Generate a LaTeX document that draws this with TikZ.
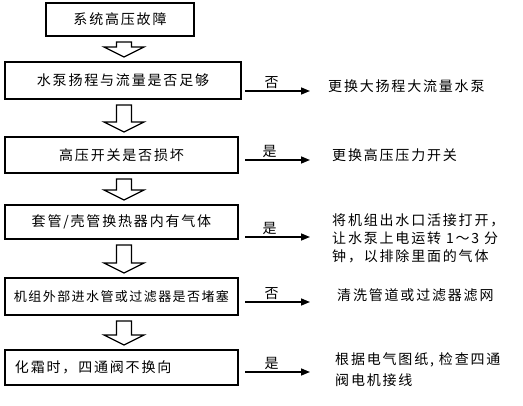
\documentclass[tikz,border=0pt]{standalone}
\usepackage{fontspec}
\newfontfamily\cjk[LetterSpace=13]{Noto Sans CJK SC}
\newfontfamily\cjksmall[LetterSpace=11]{Noto Sans CJK SC}
\usetikzlibrary{arrows.meta,calc}
\newcommand\mydownarrow[2]{%
  \draw[blockarr] let \p1=(#1.south), \p2=(#2.north) in
    (116.5pt,\y1-5pt) -- (116.5pt,\y2+14pt) -- (104pt,\y2+14pt) --
    (124pt,\y2+4pt) -- (144pt,\y2+14pt) -- (131.5pt,\y2+14pt) --
    (131.5pt,\y1-5pt) -- cycle;}
\begin{document}
\begin{tikzpicture}[x=1pt,y=-1pt,
  box/.style={draw,line width=2pt,inner sep=0pt,font=\cjk\fontsize{14}{18}\selectfont},
  blockarr/.style={draw,line width=1.2pt,fill=white},
  harr/.style={line width=1.5pt,-{Triangle[length=9pt,width=7pt]}},
  lab/.style={above,inner sep=2pt,font=\cjk\fontsize{14}{16}\selectfont},
  rtext/.style={anchor=west,inner sep=0pt,align=left,font=\cjk\fontsize{14}{18}\selectfont}]
\useasboundingbox (0,0) rectangle (523,405);
\fill[white] (0,0) rectangle (523,405);
% boxes
\node[box,minimum width=148pt,minimum height=33pt] (b1) at (120,19.5) {系统高压故障};
\node[box,minimum width=236pt,minimum height=37pt] (b2) at (123,80.5) {水泵扬程与流量是否足够};
\node[box,minimum width=233pt,minimum height=36pt] (b3) at (121.5,155) {高压开关是否损坏};
\node[box,minimum width=233pt,minimum height=34pt] (b4) at (121.5,222) {套管/壳管换热器内有气体};
\node[box,minimum width=233pt,minimum height=37pt,font=\cjksmall\fontsize{13}{16}\selectfont] (b5) at (121.5,296.5) {机组外部进水管或过滤器是否堵塞};
\node[box,minimum height=35pt,text width=213pt,inner xsep=10pt,align=left] (b6) at (121.5,367.5) {化霜时，四通阀不换向};
% block arrows
\mydownarrow{b1}{b2}
\mydownarrow{b2}{b3}
\mydownarrow{b3}{b4}
\mydownarrow{b4}{b5}
\mydownarrow{b5}{b6}
% horizontal arrows
\coordinate (s2) at (245,91);  \coordinate (e2) at (310,91);
\coordinate (s3) at (245,160); \coordinate (e3) at (310,160);
\coordinate (s4) at (245,237); \coordinate (e4) at (310,237);
\coordinate (s5) at (245,302); \coordinate (e5) at (310,302);
\coordinate (s6) at (245,372); \coordinate (e6) at (310,372);
\draw[harr] (s2) -- node[lab,pos=.41] {否} (e2);
\draw[harr] (s3) -- node[lab,pos=.38] {是} (e3);
\draw[harr] (s4) -- node[lab,pos=.38] {是} (e4);
\draw[harr] (s5) -- node[lab,pos=.41] {否} (e5);
\draw[harr] (s6) -- node[lab,pos=.41] {是} (e6);
% right texts
\node[rtext] (r2) at (328,86) {更换大扬程大流量水泵};
\node[rtext] (r3) at (332,155) {更换高压压力开关};
\node[rtext] (r4) at (332,238) {将机组出水口活接打开，\\让水泵上电运转 1～3 分\\钟，以排除里面的气体};
\node[rtext] (r5) at (337,295) {清洗管道或过滤器滤网};
\node[rtext,font=\cjk\fontsize{14}{21}\selectfont] (r6) at (335,369.5) {根据电气图纸, 检查四通\\阀电机接线};
\end{tikzpicture}
\end{document}
